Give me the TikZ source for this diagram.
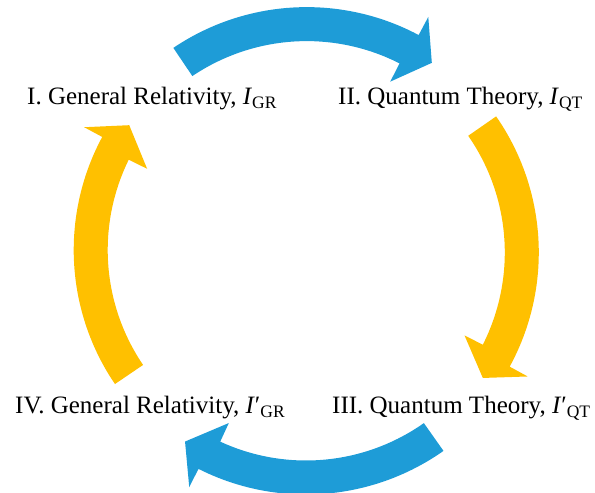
\documentclass[tikz,border=0pt]{standalone}
\usepackage{fontspec}
\setmainfont{Liberation Serif}
\definecolor{arrblue}{HTML}{1E9CD7}
\definecolor{arryel}{HTML}{FFC000}
\newcommand{\lblsub}[1]{\raisebox{-4pt}{\fontsize{17.5}{17.5}\selectfont #1}}
% #1 colour, #2 cx, #3 cy, #4 tail angle, #5 outer base angle, #6 inner base angle, #7 tip angle
\newcommand{\curvarrow}[7]{%
  \fill[#1] plot[domain=#4:#5, samples=50, variable=\t] ({#2+238.5*cos(\t)},{#3+238.5*sin(\t)})
    -- ({#2+259*cos(#5)},{#3+259*sin(#5)})
    -- ({#2+221.5*cos(#7)},{#3+221.5*sin(#7)})
    -- ({#2+184*cos(#6)},{#3+184*sin(#6)})
    -- plot[domain=#6:#4, samples=50, variable=\t] ({#2+204.5*cos(\t)},{#3+204.5*sin(\t)})
    -- cycle;}
\tikzset{lbl/.style={anchor=base west, inner sep=0pt, font=\fontsize{25}{28}\selectfont}}
\begin{document}
\begin{tikzpicture}[x=1pt,y=-1pt]
\useasboundingbox (0,0) rectangle (595,493);
% arrows
\curvarrow{arrblue}{306.7}{245.6}{-124}{-62}{-63}{-55.6}
\curvarrow{arryel}{300.3}{252.5}{-34.8}{28.6}{26.8}{34.5}
\curvarrow{arrblue}{306}{256}{54.8}{116.8}{114.8}{123.1}
\curvarrow{arryel}{312.2}{250}{145.8}{208.3}{206.2}{214.3}
% labels
\node[lbl] (one) at (27,104) {I. General Relativity, \textit{I}\lblsub{GR}};
\node[lbl] (two) at (338,104) {II. Quantum Theory, \textit{I}\lblsub{QT}};
\node[lbl] (three) at (332,413) {III. Quantum Theory, \textit{I}′\lblsub{QT}};
\node[lbl] (four) at (15,413) {IV. General Relativity, \textit{I}′\lblsub{GR}};
\end{tikzpicture}
\end{document}
